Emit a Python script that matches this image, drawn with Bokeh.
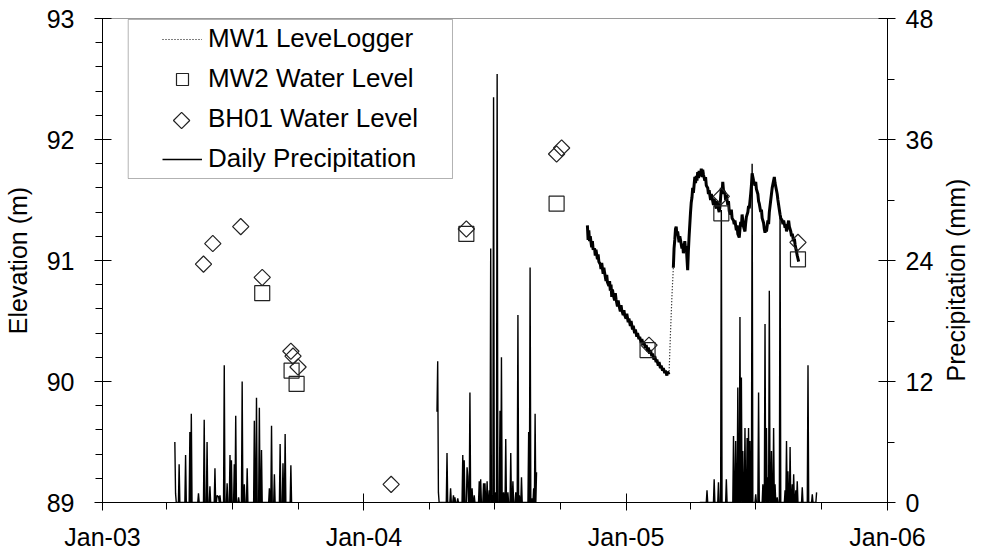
import math
import datetime as dt
import numpy as np
from bokeh.plotting import figure
from bokeh.models import (Range1d, LinearAxis, FixedTicker, DatetimeTickFormatter,
                          Legend, LegendItem, BoxAnnotation)
from bokeh.embed import file_html
from bokeh.resources import INLINE

# ---------------- data ----------------
# Daily precipitation (mm): listed rainy days; unlisted days inside a season are dry (0)
precip_seasons = [("2003-04-12", "2003-09-23"), ("2004-04-12", "2004-08-29"), ("2005-04-14", "2005-09-24")]

precip_dates = [
    "2003-04-12", "2003-04-13", "2003-04-18", "2003-04-27", "2003-05-03", "2003-05-05", "2003-05-15",
    "2003-05-23", "2003-05-27", "2003-05-31", "2003-06-07", "2003-06-10", "2003-06-11", "2003-06-12",
    "2003-06-14", "2003-06-20", "2003-06-24", "2003-06-28", "2003-06-30", "2003-07-04", "2003-07-06",
    "2003-07-10", "2003-07-15", "2003-07-18", "2003-07-22", "2003-08-01", "2003-08-04", "2003-08-08",
    "2003-08-11", "2003-08-22", "2003-08-25", "2003-08-29", "2003-09-06", "2003-09-10", "2003-09-13",
    "2003-09-21",
    "2004-04-12", "2004-04-13", "2004-04-14", "2004-04-26", "2004-05-01", "2004-05-05", "2004-05-07",
    "2004-05-11", "2004-05-18", "2004-05-20", "2004-05-24", "2004-05-25", "2004-05-28", "2004-05-31",
    "2004-06-03", "2004-06-10", "2004-06-12", "2004-06-16", "2004-06-18", "2004-06-21", "2004-06-24",
    "2004-06-26", "2004-06-28", "2004-06-30", "2004-07-03", "2004-07-05", "2004-07-09", "2004-07-11",
    "2004-07-14", "2004-07-17", "2004-07-20", "2004-07-24", "2004-07-27", "2004-07-31", "2004-08-03",
    "2004-08-05", "2004-08-08", "2004-08-18", "2004-08-20", "2004-08-23", "2004-08-25", "2004-08-27",
    "2004-08-29",
    "2005-04-24", "2005-05-04", "2005-05-10", "2005-05-14", "2005-05-21", "2005-05-31", "2005-06-03",
    "2005-06-06", "2005-06-09", "2005-06-11", "2005-06-13", "2005-06-16", "2005-06-19", "2005-06-21",
    "2005-06-23", "2005-06-26", "2005-07-01", "2005-07-05", "2005-07-11", "2005-07-14", "2005-07-16",
    "2005-07-18", "2005-07-20", "2005-07-23", "2005-07-26", "2005-07-28", "2005-07-31", "2005-08-04",
    "2005-08-11", "2005-08-13", "2005-08-15", "2005-08-18", "2005-08-21", "2005-08-23", "2005-08-26",
    "2005-08-28", "2005-09-04", "2005-09-12", "2005-09-18", "2005-09-24",
]
precip_mm = [
    6.0, 0.9, 3.8, 4.7, 7.0, 8.8, 0.9,
    8.2, 6.0, 1.6, 3.4, 0.7, 0.6, 0.6,
    0.7, 13.6, 1.9, 4.7, 4.2, 3.8, 8.6,
    0.5, 12.0, 1.8, 3.4, 8.1, 10.4, 9.4,
    5.2, 1.4, 7.6, 2.8, 5.8, 3.9, 6.8,
    3.7,
    9.0, 14.0, 1.0, 4.9, 1.4, 0.7, 0.5,
    0.4, 4.7, 4.2, 3.5, 2.6, 10.9, 1.4,
    0.7, 2.1, 2.3, 1.9, 1.9, 2.1, 1.2,
    25.2, 0.7, 40.2, 1.0, 42.5, 9.1, 14.4,
    1.0, 6.3, 1.0, 4.9, 2.1, 1.0, 18.6,
    0.7, 2.5, 7.0, 23.3, 0.4, 1.4, 8.8,
    3.0,
    1.2, 2.3, 2.0, 29.0, 2.3, 6.6, 6.1,
    11.4, 18.4, 12.4, 5.1, 7.4, 6.4, 7.4,
    6.1, 33.6, 0.8, 10.9, 1.8, 17.7, 7.4,
    2.5, 21.0, 5.1, 7.4, 1.8, 0.5, 28.3,
    1.2, 6.1, 3.1, 5.5, 1.8, 2.8, 1.2,
    2.1, 1.5, 13.6, 0.8, 1.0,
]

# MW1 LeveLogger (m)
logger_dates = [
    "2004-11-08", "2004-11-09", "2004-11-10", "2004-11-11", "2004-11-12", "2004-11-14", "2004-11-15",
    "2004-11-16", "2004-11-18", "2004-11-19", "2004-11-20", "2004-11-22", "2004-11-23", "2004-11-24",
    "2004-11-26", "2004-11-27", "2004-11-28", "2004-11-30", "2004-12-01", "2004-12-02", "2004-12-04",
    "2004-12-05", "2004-12-06", "2004-12-08", "2004-12-09", "2004-12-10", "2004-12-11", "2004-12-12",
    "2004-12-13", "2004-12-14", "2004-12-16", "2004-12-17", "2004-12-18", "2004-12-20", "2004-12-21",
    "2004-12-22", "2004-12-24", "2004-12-25", "2004-12-26", "2004-12-28", "2004-12-29", "2004-12-30",
    "2005-01-01", "2005-01-02", "2005-01-04", "2005-01-05", "2005-01-07", "2005-01-08", "2005-01-10",
    "2005-01-11", "2005-01-13", "2005-01-14", "2005-01-16", "2005-01-17", "2005-01-19", "2005-01-20",
    "2005-01-22", "2005-01-23", "2005-01-25", "2005-01-26", "2005-01-28", "2005-01-29", "2005-01-31",
    "2005-02-01", "2005-02-03", "2005-02-04", "2005-02-06", "2005-02-07", "2005-02-09", "2005-02-10",
    "2005-02-12", "2005-02-13", "2005-02-15", "2005-02-16", "2005-02-18", "2005-02-19", "2005-02-21",
    "2005-02-22", "2005-02-24", "2005-02-25", "2005-02-27", "2005-02-28", "2005-03-02",
    "2005-03-04", "2005-03-06",
    "2005-03-08", "2005-03-09", "2005-03-10", "2005-03-11", "2005-03-12", "2005-03-13", "2005-03-14",
    "2005-03-16", "2005-03-17", "2005-03-18", "2005-03-20", "2005-03-21", "2005-03-22", "2005-03-24",
    "2005-03-25", "2005-03-26", "2005-03-27", "2005-03-28", "2005-03-29", "2005-03-30", "2005-04-01",
    "2005-04-02", "2005-04-03", "2005-04-04", "2005-04-05", "2005-04-07", "2005-04-08", "2005-04-09",
    "2005-04-10", "2005-04-11", "2005-04-12", "2005-04-13", "2005-04-15", "2005-04-16", "2005-04-17",
    "2005-04-18", "2005-04-19", "2005-04-21", "2005-04-22", "2005-04-23", "2005-04-25", "2005-04-26",
    "2005-04-27", "2005-04-29", "2005-04-30", "2005-05-01", "2005-05-03", "2005-05-04", "2005-05-05",
    "2005-05-07", "2005-05-08", "2005-05-09", "2005-05-11", "2005-05-12", "2005-05-13", "2005-05-14",
    "2005-05-15", "2005-05-16", "2005-05-17", "2005-05-19", "2005-05-20", "2005-05-21", "2005-05-23",
    "2005-05-24", "2005-05-25", "2005-05-27", "2005-05-28", "2005-05-29", "2005-05-31", "2005-06-01",
    "2005-06-02", "2005-06-04", "2005-06-05", "2005-06-06", "2005-06-08", "2005-06-09", "2005-06-10",
    "2005-06-11", "2005-06-12", "2005-06-13", "2005-06-14", "2005-06-16", "2005-06-17", "2005-06-18",
    "2005-06-20", "2005-06-21", "2005-06-22", "2005-06-24", "2005-06-25", "2005-06-26", "2005-06-27",
    "2005-06-28", "2005-06-30", "2005-07-01", "2005-07-02", "2005-07-04", "2005-07-05", "2005-07-06",
    "2005-07-08", "2005-07-09", "2005-07-10", "2005-07-12", "2005-07-13", "2005-07-14", "2005-07-15",
    "2005-07-16", "2005-07-18", "2005-07-19", "2005-07-20", "2005-07-22", "2005-07-23", "2005-07-24",
    "2005-07-26", "2005-07-27", "2005-07-28", "2005-07-30", "2005-07-31", "2005-08-01", "2005-08-03",
    "2005-08-04", "2005-08-05", "2005-08-07", "2005-08-08", "2005-08-09", "2005-08-11", "2005-08-12",
    "2005-08-13", "2005-08-15", "2005-08-16", "2005-08-17", "2005-08-19", "2005-08-20", "2005-08-21",
    "2005-08-23", "2005-08-24", "2005-08-25", "2005-08-27", "2005-08-28", "2005-08-30",
]
logger_elev = [
    91.29, 91.17, 91.25, 91.16, 91.20, 91.11, 91.16,
    91.09, 91.10, 91.04, 91.09, 91.01, 91.05, 90.99,
    90.97, 90.93, 90.98, 90.89, 90.94, 90.90, 90.83,
    90.88, 90.82, 90.79, 90.83, 90.75, 90.80, 90.70,
    90.76, 90.72, 90.67, 90.73, 90.68, 90.62, 90.67,
    90.63, 90.58, 90.63, 90.59, 90.55, 90.59, 90.55,
    90.52, 90.56, 90.49, 90.52, 90.46, 90.50, 90.43,
    90.46, 90.40, 90.43, 90.37, 90.40, 90.35, 90.37,
    90.32, 90.35, 90.30, 90.32, 90.28, 90.30, 90.25,
    90.28, 90.23, 90.26, 90.21, 90.23, 90.18, 90.21,
    90.16, 90.18, 90.13, 90.16, 90.11, 90.13, 90.09,
    90.11, 90.07, 90.09, 90.05, 90.08, 90.06,
    90.40, 90.70,
    90.94, 91.10, 91.17, 91.26, 91.28, 91.21, 91.24,
    91.15, 91.20, 91.17, 91.10, 91.14, 91.06, 91.16,
    91.09, 91.12, 91.02, 90.92, 91.08, 91.20, 91.40,
    91.48, 91.52, 91.60, 91.56, 91.69, 91.64, 91.70,
    91.66, 91.73, 91.68, 91.74, 91.70, 91.76, 91.69,
    91.75, 91.71, 91.66, 91.69, 91.62, 91.60, 91.55,
    91.58, 91.50, 91.55, 91.52, 91.46, 91.51, 91.47,
    91.43, 91.49, 91.45, 91.40, 91.44, 91.52, 91.60,
    91.55, 91.65, 91.58, 91.56, 91.50, 91.54, 91.46,
    91.49, 91.41, 91.38, 91.42, 91.35, 91.33, 91.30,
    91.33, 91.25, 91.29, 91.22, 91.19, 91.26, 91.32,
    91.28, 91.38, 91.33, 91.28, 91.24, 91.31, 91.36,
    91.40, 91.45, 91.43, 91.55, 91.62, 91.72, 91.69,
    91.66, 91.62, 91.65, 91.59, 91.55, 91.49, 91.47,
    91.40, 91.42, 91.35, 91.31, 91.26, 91.23, 91.27,
    91.24, 91.33, 91.30, 91.40, 91.50, 91.55, 91.60,
    91.66, 91.69, 91.64, 91.58, 91.55, 91.50, 91.42,
    91.38, 91.35, 91.33, 91.30, 91.33, 91.27, 91.30,
    91.24, 91.30, 91.33, 91.28, 91.24, 91.20, 91.22,
    91.16, 91.18, 91.13, 91.07, 91.04, 90.99,
]
logger_gap = ("2005-03-02", "2005-03-08")   # sparse readings, drawn dotted

# MW2 Water Level (m)
mw2_dates = ["2003-08-12", "2003-09-22", "2003-09-29", "2004-05-23", "2004-09-26",
             "2005-01-31", "2005-05-14", "2005-08-29"]
mw2_elev = [90.73, 90.09, 89.98, 91.22, 91.47, 90.26, 91.39, 91.01]

# BH01 Water Level (m)
bh01_dates = ["2003-05-22", "2003-06-04", "2003-07-13", "2003-08-12", "2003-09-21", "2003-09-24",
              "2003-10-01", "2004-02-08", "2004-05-23", "2004-09-26", "2004-10-03", "2005-02-02",
              "2005-05-14", "2005-08-29"]
bh01_elev = [90.97, 91.14, 91.28, 90.86, 90.25, 90.21, 90.12, 89.15, 91.26, 91.88, 91.93, 90.30,
             91.53, 91.15]

x_tick_years = [2003, 2004, 2005, 2006]
elev_ticks = [89, 90, 91, 92, 93]
precip_ticks = [0, 12, 24, 36, 48]

# ---------------- helpers ----------------
EPOCH = dt.datetime(1970, 1, 1)


def to_dt(s):
    return dt.datetime.strptime(s, "%Y-%m-%d")


def ms(t):
    return (t - EPOCH).total_seconds() * 1000.0


# build daily precipitation series, NaN between seasons
rain = dict(zip(precip_dates, precip_mm))
px, py = [], []
for a, b in precip_seasons:
    d, e = to_dt(a), to_dt(b)
    while d <= e:
        px.append(ms(d))
        py.append(rain.get(d.strftime("%Y-%m-%d"), 0.0))
        d += dt.timedelta(days=1)
    px.append(ms(e) + 86400000.0)
    py.append(float("nan"))

lx = np.array([ms(to_dt(s)) for s in logger_dates])
ly = np.array(logger_elev, dtype=float)
g0, g1 = ms(to_dt(logger_gap[0])), ms(to_dt(logger_gap[1]))
solid_y = np.where((lx > g0) & (lx < g1), np.nan, ly)
gap_mask = (lx >= g0) & (lx <= g1)

# ---------------- figure ----------------
FONT = "Liberation Sans"
X0, X1 = ms(dt.datetime(2003, 1, 1)), ms(dt.datetime(2006, 1, 1))
FW, FH = 794, 484

p = figure(width=986, height=554, output_backend="svg", toolbar_location=None,
           x_axis_type="datetime", x_range=Range1d(X0, X1), y_range=Range1d(89, 93),
           min_border_left=97, min_border_right=95, min_border_top=18, min_border_bottom=52)
p.extra_y_ranges = {"precip": Range1d(0, 48)}
p.xgrid.visible = False
p.ygrid.visible = False
p.outline_line_color = "#9a9a9a"
p.outline_line_width = 1
p.background_fill_color = "white"
p.border_fill_color = "white"

# x axis
xa = p.xaxis[0]
xa.ticker = FixedTicker(ticks=[ms(dt.datetime(y, 1, 1)) for y in x_tick_years],
                        minor_ticks=[ms(dt.datetime(y, m, 1)) for y in x_tick_years[:-1] for m in (4, 7, 10)])
fmt = "%b-%y"
xa.formatter = DatetimeTickFormatter(years=fmt, months=fmt, days=fmt, hours=fmt, hourmin=fmt,
                                     minutes=fmt, minsec=fmt, seconds=fmt, milliseconds=fmt,
                                     microseconds=fmt)

# left axis
ya = p.yaxis[0]
ya.ticker = FixedTicker(ticks=elev_ticks, minor_ticks=[89 + 0.2 * i for i in range(21)])
ya.axis_label = "Elevation (m)"

# right axis
ra = LinearAxis(y_range_name="precip",
                ticker=FixedTicker(ticks=precip_ticks, minor_ticks=[6, 18, 30, 42]))
p.add_layout(ra, "right")

for ax in (xa, ya, ra):
    ax.axis_line_color = "black"
    ax.axis_line_width = 1
    ax.major_tick_line_color = "black"
    ax.minor_tick_line_color = "black"
    ax.major_tick_in = 9
    ax.major_tick_out = 8
    ax.minor_tick_in = 0
    ax.minor_tick_out = 7
    ax.major_label_text_font = FONT
    ax.major_label_text_font_size = "25px"
    ax.major_label_text_color = "black"
    ax.axis_label_text_font = FONT
    ax.axis_label_text_font_size = "25px"
    ax.axis_label_text_font_style = "normal"
    ax.axis_label_text_color = "black"
xa.major_label_standoff = 12
ya.major_label_standoff = 20
ya.axis_label_standoff = 12
ra.major_label_standoff = 10

# right-hand title, reading bottom-to-top: drawn as the single rotated label of a bare axis
TITLE_AT = 12  # precipitation value where the rotated title starts
rt = LinearAxis(y_range_name="precip", ticker=FixedTicker(ticks=[TITLE_AT], minor_ticks=[]),
                major_label_overrides={TITLE_AT: "Precipitation (mm)"},
                major_label_orientation=math.pi / 2, major_label_standoff=19,
                axis_line_alpha=0, major_tick_in=0, major_tick_out=0, minor_tick_in=0, minor_tick_out=0,
                major_label_text_font=FONT, major_label_text_font_size="25px",
                major_label_text_color="black")
p.add_layout(rt, "right")

# ---------------- glyphs ----------------
pr = p.line(px, py, y_range_name="precip", line_color="black", line_width=1.4)

p.line(lx, solid_y, line_color="black", line_width=3)
lg = p.line(lx[gap_mask], ly[gap_mask], line_color="black", line_width=1.2, line_dash="1 2")

sq = p.scatter([ms(to_dt(s)) for s in mw2_dates], mw2_elev, marker="square", size=15,
               fill_color=None, line_color="#222222", line_width=1.2)
dm = p.scatter([ms(to_dt(s)) for s in bh01_dates], bh01_elev, marker="square", size=11.5,
               angle=math.pi / 4, fill_color=None, line_color="#222222", line_width=1.2)
dm_proxy = p.scatter([], [], marker="square", size=11.5, fill_color=None, line_color="#222222")


# ---------------- legend ----------------
def fx(px_):
    return X0 + px_ / FW * (X1 - X0)


def fy(py_):
    return 93 - py_ / FH * 4.0


p.add_layout(BoxAnnotation(left=fx(26), right=fx(354), top=fy(1), bottom=fy(160), level="underlay",
                           fill_color="white", fill_alpha=1.0, line_color="black", line_width=1))

legend = Legend(items=[LegendItem(label="MW1 LeveLogger", renderers=[lg]),
                       LegendItem(label="MW2 Water Level", renderers=[sq]),
                       LegendItem(label="BH01 Water Level", renderers=[dm_proxy]),
                       LegendItem(label="Daily Precipitation", renderers=[pr])],
                location=(54, 322), padding=6, spacing=9, glyph_width=40, glyph_height=30,
                label_height=30, label_standoff=6, border_line_alpha=0, background_fill_alpha=0,
                label_text_font=FONT, label_text_font_size="26px", label_text_color="black")
p.add_layout(legend)
# rotated-square key for BH01 (legend keys cannot be rotated), centred on the third legend slot
p.scatter([fx(80)], [fy(102)], marker="square", size=11.5, angle=math.pi / 4,
          fill_color=None, line_color="#222222", line_width=1.2)

open("out.html", "w").write(file_html(p, INLINE))
